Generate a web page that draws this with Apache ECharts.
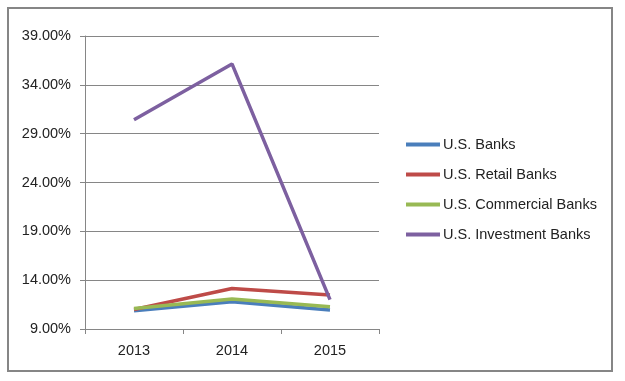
<!DOCTYPE html>
<html>
<head>
<meta charset="utf-8">
<script src="https://cdn.jsdelivr.net/npm/echarts@6/dist/echarts.min.js"></script>
<style>
  html, body { margin: 0; padding: 0; background: #fff; }
  #chart { width: 625px; height: 381px; }
</style>
</head>
<body>
<div id="chart"></div>
<script>
// data (percent)
var years = ['2013', '2014', '2015'];
var usBanks = [10.87, 11.79, 10.94];
var retailBanks = [11.0, 13.15, 12.47];
var commercialBanks = [11.1, 12.06, 11.28];
var investmentBanks = [30.43, 36.14, 12.0];
var yTicks = [9, 14, 19, 24, 29, 34, 39];

var seriesNames = ['U.S. Banks', 'U.S. Retail Banks', 'U.S. Commercial Banks', 'U.S. Investment Banks'];
var seriesColors = ['#4A7EBB', '#BE4B48', '#98B954', '#7D60A0'];
var seriesData = [usBanks, retailBanks, commercialBanks, investmentBanks];

var font = 'Liberation Sans';
var fontSize = 14.5;

var chart = echarts.init(document.getElementById('chart'));

var option = {
  animation: false,
  backgroundColor: '#fff',
  textStyle: { fontFamily: font },
  graphic: [{
    type: 'rect',
    shape: { x: 8, y: 8, width: 604, height: 363 },
    style: { fill: 'none', stroke: '#868686', lineWidth: 2 }
  }],
  grid: { left: 85, right: 246, top: 36, bottom: 52 },
  legend: {
    orient: 'vertical',
    left: 401,
    top: 132,
    icon: 'rect',
    itemWidth: 34,
    itemHeight: 4,
    itemGap: 15,
    textStyle: { fontFamily: font, fontSize: fontSize, color: '#222', padding: [0, 0, 0, -2] },
    data: seriesNames
  },
  xAxis: {
    type: 'category',
    data: years,
    boundaryGap: true,
    axisLine: { lineStyle: { color: '#868686', width: 1 } },
    axisTick: { show: true, length: 5, lineStyle: { color: '#868686' } },
    axisLabel: { color: '#222', fontSize: fontSize, fontFamily: font, margin: 14 },
    splitLine: { show: false }
  },
  yAxis: {
    type: 'value',
    min: 9,
    max: 39,
    axisLine: { show: true, lineStyle: { color: '#868686', width: 1 } },
    axisTick: { show: true, length: 5, customValues: yTicks, lineStyle: { color: '#868686' } },
    axisLabel: {
      customValues: yTicks,
      color: '#222', fontSize: fontSize, fontFamily: font, margin: 14,
      formatter: function (v) { return v.toFixed(2) + '%'; }
    },
    splitLine: { show: true, lineStyle: { color: '#868686', width: 1 } }
  },
  series: seriesNames.map(function (name, i) {
    return {
      name: name,
      type: 'line',
      data: seriesData[i],
      symbol: 'none',
      lineStyle: { color: seriesColors[i], width: 3.5 },
      itemStyle: { color: seriesColors[i] }
    };
  })
};

chart.setOption(option);
</script>
</body>
</html>
